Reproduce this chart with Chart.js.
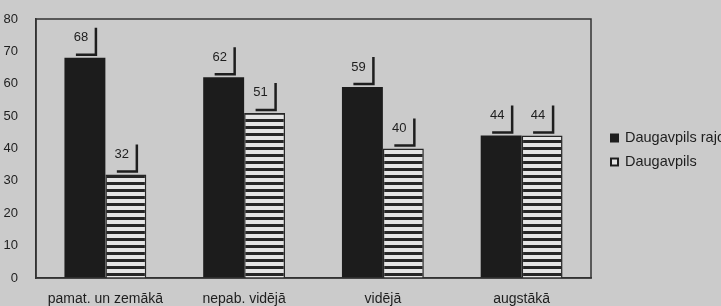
<!DOCTYPE html>
<html>
<head>
<meta charset="utf-8">
<script src="https://cdn.jsdelivr.net/npm/chart.js@4.4.1/dist/chart.umd.min.js"></script>
<style>
  html, body { margin: 0; padding: 0; background: #cbcbcb; }
  #wrap { width: 721px; height: 306px; }
</style>
</head>
<body>
<div id="wrap"><canvas id="chart" width="721" height="306"></canvas></div>
<script>
// education level groups
const categories = ['pamat. un zemākā', 'nepab. vidējā', 'vidējā', 'augstākā'];
const seriesNames = ['Daugavpils rajons', 'Daugavpils'];
const rajonsValues = [68, 62, 59, 44];
const pilsetaValues = [32, 51, 40, 44];
const yTicks = [0, 10, 20, 30, 40, 50, 60, 70, 80];

const ink = '#1e1e1e';
const font = '"Liberation Sans", Arial, sans-serif';

// horizontal stripes for the second series
function makeStripes() {
  const c = document.createElement('canvas');
  c.width = 4;
  c.height = 7;
  const g = c.getContext('2d');
  g.fillStyle = '#e4e4e4';
  g.fillRect(0, 0, 4, 7);
  g.fillStyle = '#262626';
  g.fillRect(0, 0, 4, 3);
  return g.createPattern(c, 'repeat');
}

const stripes = makeStripes();

const decorPlugin = {
  id: 'decor',
  afterDatasetsDraw(chart) {
    const ctx = chart.ctx;
    const area = chart.chartArea;
    ctx.save();

    // frame round the plot
    ctx.strokeStyle = '#333';
    ctx.lineWidth = 1.5;
    ctx.strokeRect(area.left, area.top, area.right - area.left, area.bottom - area.top);

    // value labels with the little corner bracket
    ctx.font = '13px ' + font;
    ctx.textAlign = 'center';
    ctx.textBaseline = 'middle';
    chart.data.datasets.forEach((ds, i) => {
      const meta = chart.getDatasetMeta(i);
      meta.data.forEach((el, j) => {
        const x = el.x;
        const y = el.y;
        ctx.fillStyle = ink;
        ctx.fillText(String(ds.data[j]), x - 4, y - 20);
        ctx.strokeStyle = ink;
        ctx.lineWidth = 2.5;
        ctx.beginPath();
        ctx.moveTo(x + 11, y - 30);
        ctx.lineTo(x + 11, y - 3);
        ctx.lineTo(x - 9, y - 3);
        ctx.stroke();
      });
    });

    // legend, right of the plot (text runs off the edge like the original)
    ctx.font = '14.5px ' + font;
    ctx.textAlign = 'left';
    const lx = area.right + 19;
    const rows = [138, 162];
    chart.data.datasets.forEach((ds, i) => {
      const cy = rows[i];
      ctx.fillStyle = i === 0 ? ink : '#e4e4e4';
      ctx.fillRect(lx, cy - 4.5, 9, 9);
      if (i === 1) {
        ctx.strokeStyle = ink;
        ctx.lineWidth = 2;
        ctx.strokeRect(lx + 1, cy - 3.5, 7, 7);
      }
      ctx.fillStyle = ink;
      ctx.fillText(ds.label, lx + 15, cy);
    });

    ctx.restore();
  }
};

new Chart(document.getElementById('chart'), {
  type: 'bar',
  data: {
    labels: categories,
    datasets: [{
      label: seriesNames[0],
      data: rajonsValues,
      backgroundColor: '#1c1c1c',
      borderWidth: 0
    }, {
      label: seriesNames[1],
      data: pilsetaValues,
      backgroundColor: stripes,
      borderColor: '#262626',
      borderWidth: 1.5
    }]
  },
  options: {
    responsive: false,
    animation: false,
    categoryPercentage: 0.59,
    barPercentage: 1,
    layout: {
      padding: { top: 19, right: 130, left: 0, bottom: 0 }
    },
    plugins: {
      legend: { display: false },
      tooltip: { enabled: false }
    },
    scales: {
      x: {
        grid: { display: false },
        border: { color: '#333', width: 1.5 },
        ticks: {
          color: ink,
          padding: 5,
          font: { family: font, size: 14 }
        },
        afterFit(scale) { scale.height = 28; }
      },
      y: {
        min: 0,
        max: 80,
        afterBuildTicks(scale) { scale.ticks = yTicks.map(v => ({ value: v })); },
        grid: { display: false },
        border: { color: '#333', width: 1.5 },
        ticks: {
          color: ink,
          padding: 10,
          font: { family: font, size: 13 }
        },
        afterFit(scale) { scale.width = 36; }
      }
    }
  },
  plugins: [decorPlugin]
});
</script>
</body>
</html>
